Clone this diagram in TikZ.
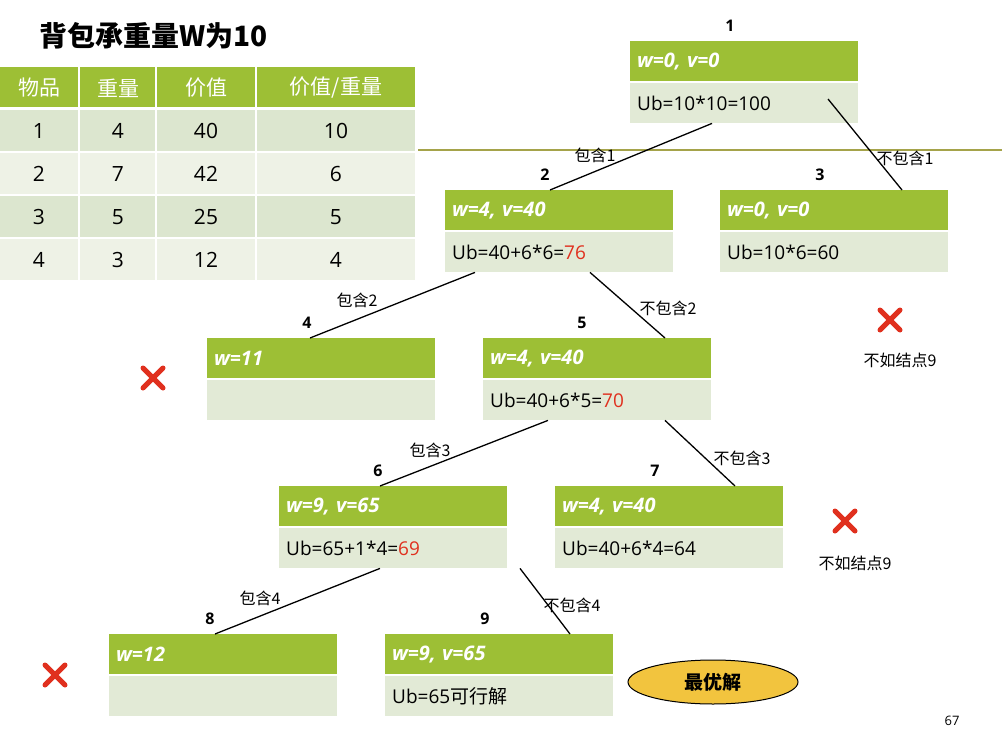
\documentclass[tikz,border=0pt]{standalone}
\usepackage{fontspec}
\setmainfont{Open Sans}
\newfontfamily\cjk{Noto Sans CJK SC}
\usetikzlibrary{calc}
\definecolor{bar}{HTML}{9DBF35}
\definecolor{pale}{HTML}{E2EAD6}
\definecolor{rowa}{HTML}{DCE6CF}
\definecolor{rowb}{HTML}{EEF2E6}
\definecolor{redn}{HTML}{E0301E}
\definecolor{olive}{HTML}{A5A34A}
\definecolor{gold}{HTML}{F2C43E}
\tikzset{
 topbar/.style={fill=bar,minimum width=228pt,minimum height=40pt,inner sep=0pt,text=white,font=\fontsize{20}{22}\selectfont\bfseries\itshape,anchor=north west,align=left,text width=214pt},
 botbox/.style={fill=pale,minimum width=228pt,minimum height=40pt,inner sep=0pt,font=\fontsize{19}{22}\selectfont,anchor=north west,align=left,text width=214pt},
 num/.style={font=\fontsize{16}{18}\selectfont\bfseries},
 elab/.style={font=\cjk\fontsize{16}{18}\selectfont},
 edge/.style={line width=1.3pt},
 cell/.style={minimum height=40pt,inner sep=0pt,font=\fontsize{21}{24}\selectfont,anchor=north west},
 cross/.style={draw=redn,line width=5pt,line cap=round},
}
\begin{document}
\begin{tikzpicture}[x=1pt,y=-1pt]
\useasboundingbox (0,0) rectangle (1002,744);
\node[font=\cjk\fontsize{28}{30}\selectfont\bfseries,anchor=west] (title) at (36,36) {背包承重量W为10};
% table
\foreach \x/\w [count=\c] in {0/78,80/75,157/98,257/158}{
 \node[cell,fill=bar,minimum width=\w pt,text=white,font=\cjk\fontsize{21}{24}\selectfont] (h\c) at (\x,67) {};
}
\node[font=\cjk\fontsize{21}{24}\selectfont,text=white] (t1) at (39,88) {物品};
\node[font=\cjk\fontsize{21}{24}\selectfont,text=white] (t2) at (118,88) {重量};
\node[font=\cjk\fontsize{21}{24}\selectfont,text=white] (t3) at (206,88) {价值};
\node[font=\cjk\fontsize{21}{24}\selectfont,text=white] (t4) at (336,88) {价值/重量};
\foreach \y/\col/\a/\b/\cc/\d [count=\r] in {110/rowa/1/4/40/10,153/rowb/2/7/42/6,196/rowa/3/5/25/5,239/rowb/4/3/12/4}{
 \fill[\col] (0,\y) rectangle (78,\y+41);
 \fill[\col] (80,\y) rectangle (155,\y+41);
 \fill[\col] (157,\y) rectangle (255,\y+41);
 \fill[\col] (257,\y) rectangle (415,\y+41);
 \node[font=\fontsize{21}{24}\selectfont] (ra\r) at (39,\y+21) {\a};
 \node[font=\fontsize{21}{24}\selectfont] (rb\r) at (118,\y+21) {\b};
 \node[font=\fontsize{21}{24}\selectfont] (rc\r) at (206,\y+21) {\cc};
 \node[font=\fontsize{21}{24}\selectfont] (rd\r) at (336,\y+21) {\d};
}
\draw[olive,line width=1.5pt] (418,150) -- (1002,150);
% tree nodes
\newcommand\tnode[5]{%
 \node[topbar] (t#1) at (#2,#3) {#4};
 \node[botbox] (b#1) at (#2,#3+42) {#5};
}
\tnode{1}{630}{41}{w=0, v=0}{Ub=10*10=100}
\tnode{2}{445}{190}{w=4, v=40}{Ub=40+6*6=\textcolor{redn}{76}}
\tnode{3}{720}{190}{w=0, v=0}{Ub=10*6=60}
\tnode{4}{207}{338}{w=11}{}
\tnode{5}{483}{338}{w=4, v=40}{Ub=40+6*5=\textcolor{redn}{70}}
\tnode{6}{279}{486}{w=9, v=65}{Ub=65+1*4=\textcolor{redn}{69}}
\tnode{7}{555}{486}{w=4, v=40}{Ub=40+6*4=64}
\tnode{8}{109}{634}{w=12}{}
\tnode{9}{385}{634}{w=9, v=65}{Ub=65{\cjk 可行解}}
% numbers
\foreach \n/\x/\y in {1/730/26,2/545/175,3/820/175,4/307/323,5/582/323,6/378/471,7/655/471,8/210/619,9/485/619}
 \node[num] (n\n) at (\x,\y) {\n};
% edges
\draw[edge] ($(b1.south west)+(82,0)$) -- ($(t2.north west)+(105,0)$);
\draw[edge] ($(b1.north west)+(198,16)$) -- ($(t3.north west)+(182,0)$);
\draw[edge] ($(b2.south west)+(30,0)$) -- ($(t4.north west)+(103,0)$);
\draw[edge] ($(b2.south west)+(145,0)$) -- ($(t5.north west)+(182,0)$);
\draw[edge] ($(b5.south west)+(65,0)$) -- ($(t6.north west)+(101,0)$);
\draw[edge] ($(b5.south west)+(182,0)$) -- ($(t7.north west)+(180,0)$);
\draw[edge] ($(b6.south west)+(101,0)$) -- ($(t8.north west)+(106,0)$);
\draw[edge] ($(b6.south west)+(241,0)$) -- ($(t9.north west)+(185,0)$);
% edge labels
\foreach \t/\x/\y [count=\i] in {包含1/595/155,不包含1/905/158,包含2/357/300,不包含2/668/308,包含3/430/450,不包含3/742/458,包含4/260/598,不包含4/572/605}
 \node[elab] (l\i) at (\x,\y) {\t};
% crosses
\foreach \x/\y [count=\i] in {153/378,890/320,845/521,55/675}{
 \draw[cross] (\x-10,\y-10) -- (\x+10,\y+10);
 \draw[cross] (\x-10,\y+10) -- (\x+10,\y-10);
}
\node[elab] (nb1) at (900,360) {不如结点9};
\node[elab] (nb2) at (855,563) {不如结点9};
\draw[fill=gold,line width=1pt] (713,682) ellipse (85 and 22);
\node[font=\cjk\fontsize{19}{21}\selectfont\bfseries] (best) at (713,682) {最优解};
\node[font=\fontsize{13}{15}\selectfont] (pg) at (952,721) {67};
\end{tikzpicture}
\end{document}
